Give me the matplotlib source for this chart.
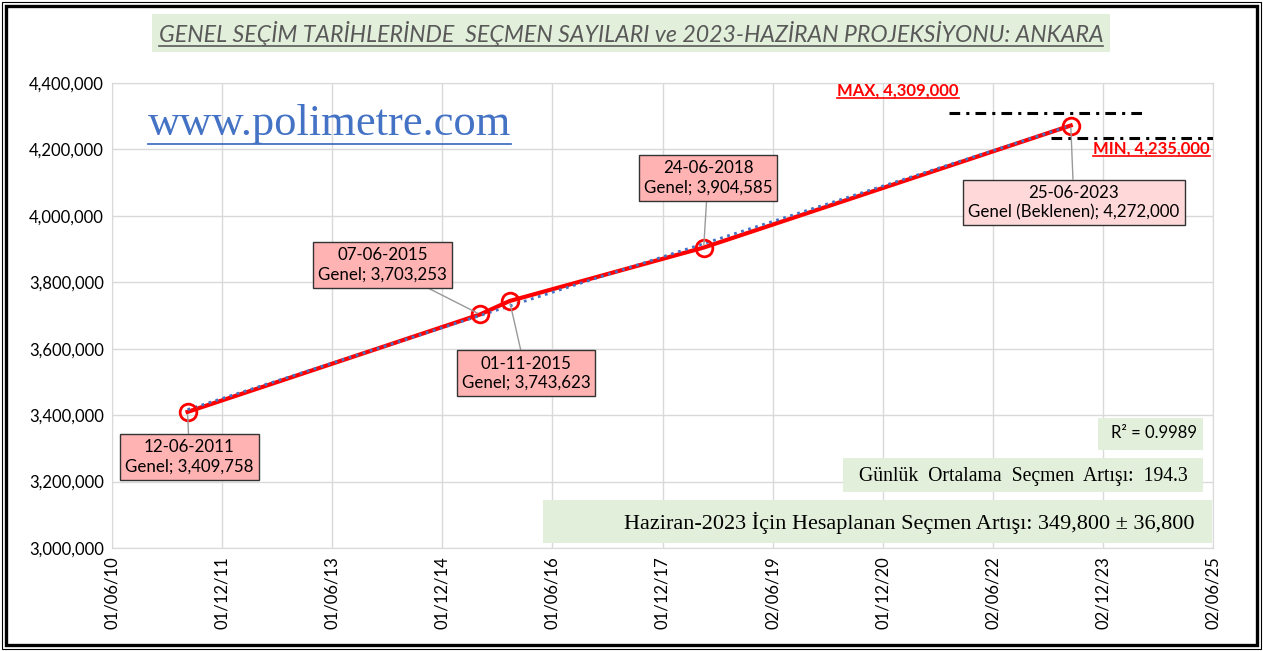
import numpy as np
import matplotlib as mpl
mpl.use('Agg')
import matplotlib.pyplot as plt
import matplotlib.dates as mdates
from matplotlib.patches import Rectangle
from matplotlib.lines import Line2D
from datetime import datetime, timedelta

## Data
dates = ['2011-06-12', '2015-06-07', '2015-11-01', '2018-06-24', '2023-06-25']
voters = [3409758, 3703253, 3743623, 3904585, 4272000]
labels = ['12-06-2011\nGenel; 3,409,758', '07-06-2015\nGenel; 3,703,253',
          '01-11-2015\nGenel; 3,743,623', '24-06-2018\nGenel; 3,904,585',
          '25-06-2023\nGenel (Beklenen); 4,272,000']
max_val = 4309000
min_val = 4235000
max_span = ['2021-10-26', '2024-06-23']
min_span = ['2023-03-18', '2025-06-02']
r2_text = 'R² = 0.9989'
daily_text = 'Günlük  Ortalama  Seçmen  Artışı:  194.3'
proj_text = 'Haziran-2023 İçin Hesaplanan Seçmen Artışı: 349,800 ± 36,800'
title = 'GENEL SEÇİM TARİHLERİNDE  SEÇMEN SAYILARI ve 2023-HAZİRAN PROJEKSİYONU: ANKARA'

W, H = 1263, 651
SANS = 'Lato'
SERIF = 'Liberation Serif'

x = mdates.date2num([datetime.strptime(d, '%Y-%m-%d') for d in dates])
y = np.array(voters)

fig = plt.figure(figsize=(W / 100, H / 100), dpi=100)
ax = fig.add_axes([112 / W, 1 - 548 / H, 1101 / W, 465 / H])

start = datetime(2010, 6, 1)
ticks = [mdates.date2num(start + timedelta(days=548 * k)) for k in range(11)]
ax.set_xlim(ticks[0], ticks[-1])
ax.set_ylim(3000000, 4400000)
ax.set_xticks(ticks)
ax.xaxis.set_major_formatter(mdates.DateFormatter('%d/%m/%y'))
ax.set_yticks(np.arange(3000000, 4400001, 200000))
ax.yaxis.set_major_formatter(mpl.ticker.FuncFormatter(lambda v, p: '{:,.0f}'.format(v)))
for lab in ax.get_xticklabels():
    lab.set_rotation(90)
ax.tick_params(length=0, labelsize=12, pad=6)
for lab in ax.get_xticklabels() + ax.get_yticklabels():
    lab.set_fontfamily(SANS)
ax.grid(True, color='#d9d9d9', lw=1)
ax.set_axisbelow(True)
for s in ax.spines.values():
    s.set_color('#d9d9d9')

# trend line (linear fit)
coef = np.polyfit(x, y, 1)
ax.plot([x[0], x[-1]], np.polyval(coef, [x[0], x[-1]]), color='#4472c4', lw=2, ls=':', zorder=4)
ax.plot(x, y, color='red', lw=3, zorder=3)
ax.plot(x, y, 'o', ms=12, mfc='none', mec='red', mew=2, zorder=5)

# max / min lines
ax.plot(mdates.date2num([datetime.strptime(d, '%Y-%m-%d') for d in max_span]), [max_val, max_val],
        color='black', lw=2.2, dashes=(3.5, 2, 1, 2))
ax.plot(mdates.date2num([datetime.strptime(d, '%Y-%m-%d') for d in min_span]), [min_val, min_val],
        color='black', lw=2.2, dashes=(3.5, 2, 1, 2))

# data labels
box_pos = [(0.0704, 0.196), (0.2457, 0.6086), (0.376, 0.376), (0.5413, 0.7957), (0.8737, 0.743)]
box_col = ['#ffb3b3'] * 4 + ['#ffd9d9']
for i in range(len(x)):
    ax.annotate(labels[i], xy=(x[i], y[i]), xytext=box_pos[i], textcoords='axes fraction',
                ha='center', va='center', fontsize=12.2, family=SANS, linespacing=1.25,
                bbox=dict(boxstyle='square,pad=0.3', fc=box_col[i], ec='#333333', lw=1),
                arrowprops=dict(arrowstyle='-', color='#999999', lw=1, shrinkA=0, shrinkB=2),
                zorder=6)

max_t = ax.text(0.714, 0.983, 'MAX, {:,}'.format(max_val), transform=ax.transAxes, ha='center', va='center',
                color='red', fontsize=12, fontweight='bold', family=SANS)
min_t = ax.text(0.944, 0.860, 'MIN, {:,}'.format(min_val), transform=ax.transAxes, ha='center', va='center',
                color='red', fontsize=12, fontweight='bold', family=SANS)

# watermark
web_t = fig.text(148 / W, 1 - 135 / H, 'www.polimetre.com', family=SERIF, fontsize=32,
                 color='#4472c4', va='baseline', ha='left')

# green boxes
def gbox(x0, y0, x1, y1):
    fig.add_artist(Rectangle((x0 / W, 1 - y1 / H), (x1 - x0) / W, (y1 - y0) / H,
                             transform=fig.transFigure, fc='#e2efda', ec='none', zorder=7))

gbox(152, 14, 1110, 52)
gbox(1098, 418, 1203, 450)
gbox(843, 458, 1203, 492)
gbox(543, 500, 1212, 543)

title_t = fig.text(631 / W, 1 - 34 / H, title, ha='center', va='center', fontsize=17,
                   style='italic', color='#595959', family=SANS, zorder=8)
fig.text(1197 / W, 1 - 433 / H, r2_text, ha='right', va='center', fontsize=12, family=SANS, zorder=8)
daily_t = fig.text(1188 / W, 1 - 476 / H, daily_text, ha='right', va='center', fontsize=14, family=SERIF, zorder=8)
proj_t = fig.text(1195 / W, 1 - 523 / H, proj_text, ha='right', va='center', fontsize=16, family=SERIF, zorder=8)

# fit text widths to the reference
fig.canvas.draw()
r = fig.canvas.get_renderer()
for t, fs, target in [(title_t, 17, 943), (proj_t, 16, 571), (daily_t, 14, 330)]:
    bb = t.get_window_extent(r)
    t.set_fontsize(fs * target / bb.width)

# underlines
fig.canvas.draw()
for t, c, lw in [(title_t, '#595959', 1.2), (web_t, '#4472c4', 1.3), (max_t, 'red', 1.2), (min_t, 'red', 1.2)]:
    bb = t.get_window_extent(r)
    yy = (bb.y0 + 0.5) / H
    fig.add_artist(Line2D([bb.x0 / W, bb.x1 / W], [yy, yy], transform=fig.transFigure, color=c, lw=lw, zorder=9))

# outer frame
fig.add_artist(Rectangle((2 / W, 2 / H), 1 - 4 / W, 1 - 4 / H, transform=fig.transFigure,
                         fill=False, ec='black', lw=0.8))
fig.add_artist(Rectangle((6 / W, 6 / H), 1 - 12 / W, 1 - 12 / H, transform=fig.transFigure,
                         fill=False, ec='black', lw=2.4))

fig.savefig('out.png', dpi=100)
